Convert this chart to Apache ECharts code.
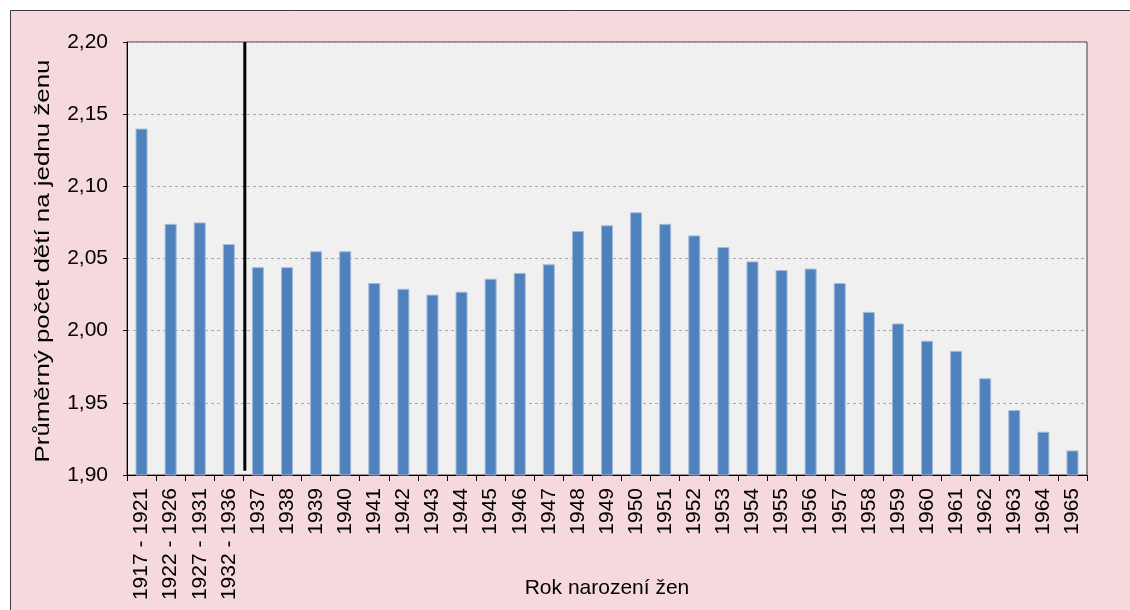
<!DOCTYPE html>
<html><head><meta charset="utf-8">
<script src="https://cdn.jsdelivr.net/npm/echarts@6/dist/echarts.min.js"></script>
<style>html,body{margin:0;padding:0;background:#fff;overflow:hidden}#c{width:1130px;height:610px}</style>
</head><body><div id="c"></div>
<script>
const categories = ['1917 - 1921','1922 - 1926','1927 - 1931','1932 - 1936','1937','1938','1939','1940','1941','1942','1943','1944','1945','1946','1947','1948','1949','1950','1951','1952','1953','1954','1955','1956','1957','1958','1959','1960','1961','1962','1963','1964','1965'];
const values = [2.140,2.074,2.075,2.060,2.044,2.044,2.055,2.055,2.033,2.029,2.025,2.027,2.036,2.040,2.046,2.069,2.073,2.082,2.074,2.066,2.058,2.048,2.042,2.043,2.033,2.013,2.005,1.993,1.986,1.967,1.945,1.930,1.917];
const yMin = 1.90, yMax = 2.20, yStep = 0.05;
const separatorAt = 3.55;           // between grouped periods and single years
const separatorSpan = [1.903, 2.20];
const xTitle = 'Rok narození žen';
const yTitle = 'Průměrný počet dětí na jednu ženu';

const font = 'Liberation Sans, Arial, sans-serif';
const el = document.getElementById('c');
const chart = echarts.init(el, null, {renderer:'canvas'});

// y-title: stretched along its baseline as in the reference
const mctx = document.createElement('canvas').getContext('2d');
mctx.font = '21px ' + font;
const titleW = mctx.measureText(yTitle).width;
const titleScale = 403 / titleW;

chart.setOption({
  animation:false,
  backgroundColor:'#ffffff',
  graphic:[
    {type:'rect', z:-10, shape:{x:10.5,y:10.5,width:1200,height:700}, style:{fill:'#F5D9DD', stroke:'#3a3a3a', lineWidth:1}},
    {type:'text', x:43, y:261, rotation:Math.PI/2, scaleX:titleScale,
     style:{text:yTitle, font:'21px ' + font, fill:'#000', align:'center', verticalAlign:'middle'}}
  ],
  grid:{left:127, right:43, top:42, bottom:135, containLabel:false, outerBoundsMode:'none',
        show:true, backgroundColor:'#F0F0F0', borderColor:'#404040', borderWidth:1},
  xAxis:[{
    type:'category', data:categories,
    axisLine:{lineStyle:{color:'#000', width:1}},
    axisTick:{show:true, alignWithLabel:false, length:6, lineStyle:{color:'#000'}},
    axisLabel:{rotate:90, margin:13, fontSize:21, fontFamily:font, color:'#000', interval:0},
    name:xTitle, nameLocation:'middle', nameGap:103, nameMoveOverlap:false,
    nameTextStyle:{fontSize:21, fontFamily:font, color:'#000'}
  },{
    type:'value', show:false, min:-0.5, max:categories.length-0.5
  }],
  yAxis:{
    type:'value', min:yMin, max:yMax, interval:yStep,
    axisLine:{show:true, onZero:false, lineStyle:{color:'#000'}},
    axisTick:{show:true, length:4, lineStyle:{color:'#000'}},
    axisLabel:{fontSize:21, fontFamily:font, color:'#000', margin:19,
      formatter:v=>v.toFixed(2).replace('.',',')},
    splitLine:{show:true, lineStyle:{color:'#A8A8A8', type:[3,3], width:1}}
  },
  series:[{
    type:'bar', data:values, barWidth:12,
    itemStyle:{color:'#4F81BD', borderColor:'#A3BADB', borderWidth:1}
  },{
    type:'line', xAxisIndex:1, yAxisIndex:0, symbol:'none', silent:true, clip:false,
    data:[[separatorAt, separatorSpan[0]],[separatorAt, separatorSpan[1]]],
    lineStyle:{color:'#000', width:3}
  }]
});
</script></body></html>
